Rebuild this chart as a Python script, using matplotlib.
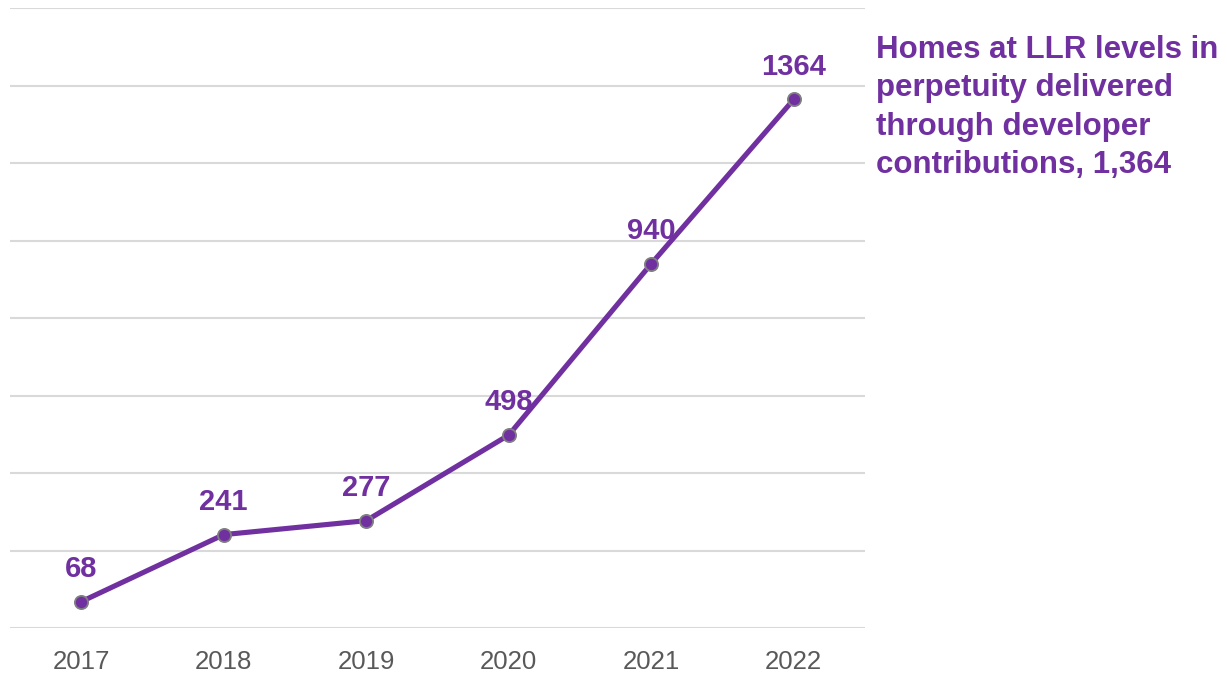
import matplotlib
matplotlib.use("Agg")
import matplotlib.pyplot as plt

years = ["2017", "2018", "2019", "2020", "2021", "2022"]
homes = [68, 241, 277, 498, 940, 1364]
series_label = "Homes at LLR levels in\nperpetuity delivered\nthrough developer\ncontributions, 1,364"

purple = "#7030A0"
plt.rcParams['font.family'] = ['Liberation Sans', 'DejaVu Sans']

fig = plt.figure(figsize=(12.27, 6.74), dpi=100)
ax = fig.add_axes([10/1227, 46/674, 855/1227, 620/674])

x = list(range(len(years)))
ax.plot(x, homes, color=purple, lw=3.7, marker='o', markersize=9.5,
        markerfacecolor=purple, markeredgecolor='#808080', markeredgewidth=1.3,
        solid_capstyle='round', zorder=3)
for xi, v in zip(x, homes):
    ax.annotate(str(v), (xi, v), xytext=(0, 23.5), textcoords='offset points',
                ha='center', va='center', fontsize=21, fontweight='bold', color=purple)

ax.set_xlim(-0.5, 5.5)
ax.set_ylim(0, 1600)
ax.set_yticks(range(0, 1601, 200))
ax.set_yticklabels([])
ax.tick_params(axis='y', length=0)
ax.set_xticks(x)
ax.set_xticklabels(years)
ax.tick_params(axis='x', length=0, pad=16, labelsize=18.5, labelcolor='#595959')
ax.grid(axis='y', color='#d9d9d9', lw=1.5)
ax.set_axisbelow(True)
for s in ax.spines.values():
    s.set_visible(False)

fig.text(876/1227, 1 - 35/674, series_label, ha='left', va='top', fontsize=22.5,
         fontweight='bold', color=purple, linespacing=1.36)

fig.savefig("out.png", dpi=100)
